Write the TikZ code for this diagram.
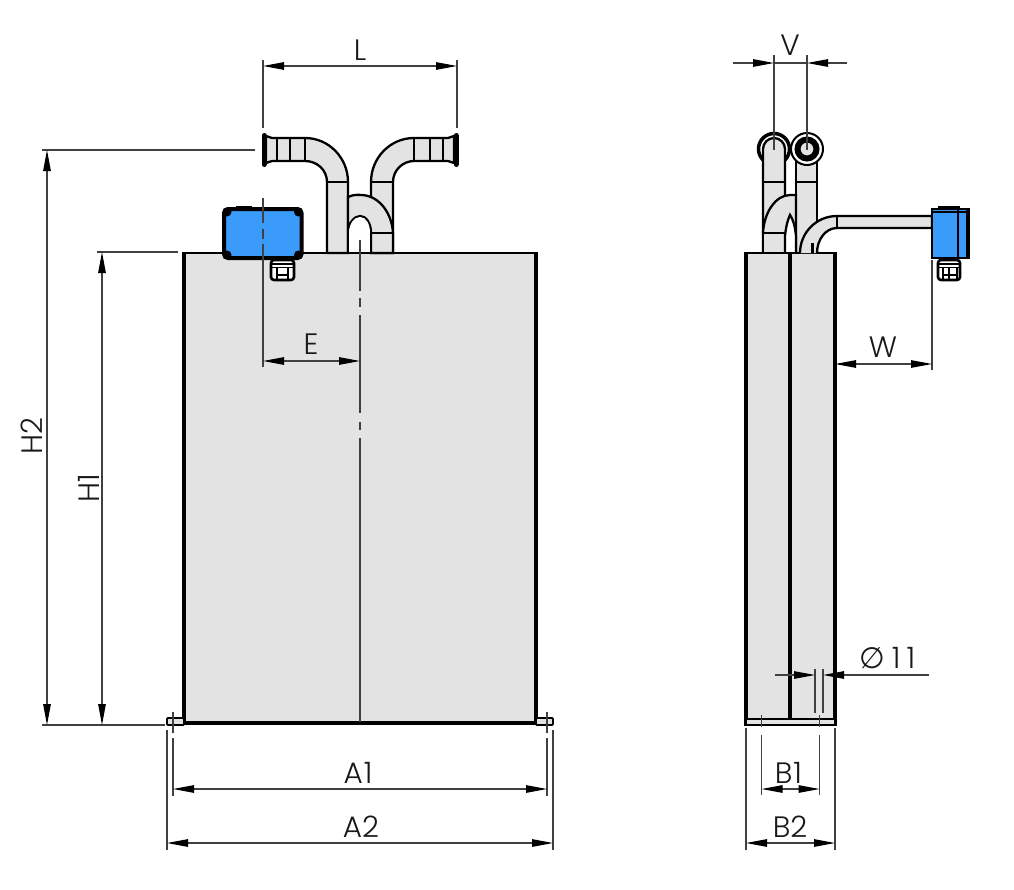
\documentclass[tikz,border=0pt]{standalone}
\usepackage{fontspec}
\setmainfont{Poppins}[UprightFont=* Light]
\newfontfamily\symfont{DejaVu Sans}
\usetikzlibrary{arrows.meta}
\definecolor{bodygray}{HTML}{E3E3E3}
\definecolor{boxblue}{HTML}{3B9BFB}
\begin{document}
\begin{tikzpicture}[
        x=1pt, y=-1pt,
        body/.style = {draw=black, fill=bodygray, line width=2.3pt}, % Корпус и трубы
        edgeline/.style = {line width=3.4pt}, % Толстые края
        bar/.style = {line width=2.3pt},
        flange/.style = {line width=5pt, line cap=round},
        termbox/.style = {draw=black, fill=boxblue, line width=4pt, rounded corners=4pt},
        gland/.style = {draw=black, fill=white, line width=2.6pt, rounded corners=3pt},
        ext/.style = {draw=black!75, line width=1.1pt}, % Выносные линии
        dim/.style = {draw=black!75, line width=1.1pt, {Triangle[length=21pt,width=7.5pt,color=black]}-{Triangle[length=21pt,width=7.5pt,color=black]}},
        dimend/.style = {draw=black!75, line width=1.1pt, -{Triangle[length=21pt,width=7.5pt,color=black]}},
        lbl/.style = {font=\fontsize{29.5}{32}\selectfont, inner sep=0pt, text=black!90},
    ]
    \useasboundingbox (0,0) rectangle (1014,889);

    % Вид спереди
    \path[fill=bodygray] (184,253) rectangle (536,722);
    \draw[bar] (184,253) -- (536,253);
    \draw[edgeline] (184,252) -- (184,723) -- (536,723) -- (536,252);
    \draw[fill=bodygray, line width=1.8pt, rounded corners=1pt] (167,718) rectangle (184,725);
    \draw[fill=bodygray, line width=1.8pt, rounded corners=1pt] (536,718) rectangle (553,725);

    % Трубы
    \draw[body] (266,136) -- (272,138) -- (305,138) .. controls (329,138) and (348,158) .. (348,182)
        -- (348,253) -- (327,253) -- (327,182) .. controls (327,170) and (317,161) .. (305,161)
        -- (272,161) -- (266,163) -- cycle;
    \draw[body] (454,136) -- (448,138) -- (414,138) .. controls (390,138) and (371,158) .. (371,182)
        -- (371,253) -- (393,253) -- (393,182) .. controls (393,170) and (403,161) .. (414,161)
        -- (448,161) -- (454,163) -- cycle;
    \foreach \xa in {277,290,305,414,430,443}
        \draw[bar] (\xa,138) -- (\xa,161);
    \draw[bar] (327,182) -- (348,182) (371,182) -- (393,182);
    \draw[flange] (264,135.5) -- (264,164.5);
    \draw[flange] (456,135.5) -- (456,164.5);
    \draw[body] (348,253) -- (348,197) .. controls (354,194) and (360,195) .. (362,195)
        .. controls (380,196) and (392,214) .. (393,233) -- (393,253) -- (371,253) -- (371,233)
        .. controls (371,223) and (366,216) .. (360,216) .. controls (354,216) and (348,224) .. (348,233);
    \path[fill=white] (349,253) -- (349,233) .. controls (349,224) and (354,217) .. (360,217)
        .. controls (366,217) and (370,224) .. (370,233) -- (370,253) -- cycle;
    \draw[bar] (348,233) -- (348,253) (371,233) -- (393,233) (371,233) -- (371,253);
    \draw[bar] (327,253) -- (393,253);

    % Клеммная коробка
    \draw[gland] (271,260) rectangle (294,280);
    \draw[line width=1.3pt] (271,264) -- (294,264) (271,267.5) -- (294,267.5);
    \draw[line width=1.6pt] (277,267.5) -- (277,279) (288,267.5) -- (288,279) (277,275) -- (288,275);
    \draw[termbox] (224,209) rectangle (301.5,258);
    \foreach \xa/\ya in {227/212, 298.5/212, 227/255, 298.5/255}
        \fill (\xa,\ya) circle (4.5pt);
    \draw[line width=1.8pt] (236,206.5) -- (252,206.5);

    % Вид сбоку
    \draw[line width=3.5pt, fill=white] (774,149) circle (15.5pt);
    \draw[body] (763,253) -- (763,149) .. controls (763,143) and (768,138) .. (774,138)
        .. controls (780,138) and (785,143) .. (785,149) -- (785,253) -- cycle;
    \draw[body] (796,253) -- (796,150) -- (817,150) -- (817,253) -- cycle;
    \draw[bar] (763,182) -- (785,182) (796,182) -- (817,182);
    \draw[line width=2pt, fill=white] (807,149) circle (16pt);
    \draw[line width=6pt, fill=bodygray] (807,149) circle (9.5pt);
    \draw[draw=none, fill=bodygray] (763,253) -- (763,233) .. controls (764,212) and (776,195) .. (790,195)
        -- (796,195) -- (796,253) -- cycle;
    \draw[bar] (763,233) .. controls (764,212) and (776,195) .. (790,195) -- (796,195) -- (796,253);
    \draw[bar] (763,233) -- (763,253) (785,233) -- (785,253) (763,233) -- (785,233);
    \path[fill=white] (785,253) -- (785,236) .. controls (786,226) and (788,219) .. (790,215)
        .. controls (793,219) and (795,226) .. (796,236) -- (796,253) -- cycle;
    \draw[bar] (785,253) -- (785,236) .. controls (786,226) and (788,219) .. (790,215)
        .. controls (793,219) and (795,226) .. (796,236) -- (796,253);

    \path[fill=bodygray] (746,253) rectangle (835,720);
    \draw[bar] (746,253) -- (835,253);
    \draw[edgeline] (746,252) -- (746,720) (835,252) -- (835,720) (790,252) -- (790,720);
    \draw[fill=bodygray, line width=2.2pt] (745.5,719) rectangle (835.5,725);

    % Кабельный ввод
    \draw[body] (800,253) .. controls (800,233) and (816,216) .. (837,216) -- (932,216) -- (932,228)
        -- (837,228) .. controls (826,228) and (817,239) .. (817,253);
    \draw[bar] (837,216) -- (837,228) (812.5,253) -- (812.5,243);
    \draw[gland] (938,260) rectangle (960,280);
    \draw[line width=1.3pt] (938,264) -- (960,264) (938,267.5) -- (960,267.5);
    \draw[line width=1.6pt] (943,267.5) -- (943,279) (949,267.5) -- (949,279) (957,267.5) -- (957,279) (943,275) -- (957,275);
    \draw[draw=black, fill=boxblue, line width=2.8pt] (932,209) rectangle (969,258);
    \draw[line width=2pt] (932,212) -- (969,212) (958,206.5) -- (958,258) (967,209) -- (967,258);
    \draw[line width=1.8pt] (938,207) -- (960,207);

    % Размерные точки
    \coordinate (Lleft) at (263,66);
    \coordinate (Lright) at (457,66);
    \coordinate (Eleft) at (263,361);
    \coordinate (Eright) at (360,361);
    \coordinate (H2top) at (47,150);
    \coordinate (H2bot) at (47,725);
    \coordinate (H1top) at (102,252);
    \coordinate (H1bot) at (102,725);
    \coordinate (A1left) at (173,789);
    \coordinate (A1right) at (547,789);
    \coordinate (A2left) at (167,843);
    \coordinate (A2right) at (553,843);
    \coordinate (B1left) at (761.5,789);
    \coordinate (B1right) at (819.5,789);
    \coordinate (B2left) at (746,843);
    \coordinate (B2right) at (835,843);
    \coordinate (Wleft) at (835,364);
    \coordinate (Wright) at (932,364);
    \coordinate (Vleft) at (774,63);
    \coordinate (Vright) at (807,63);
    \coordinate (Vfarleft) at (733,63);
    \coordinate (Vfarright) at (847,63);
    \coordinate (Dleft) at (815,675);
    \coordinate (Dright) at (823,675);
    \coordinate (Dfarleft) at (775,675);
    \coordinate (Dfarright) at (929,675);

    % Выносные линии
    \draw[ext] (263,60) -- (263,128) (457,60) -- (457,128);
    \draw[ext] (263,198) -- (263,223) (263,229) -- (263,239) (263,244) -- (263,367);
    \draw[ext] (360,240) -- (360,291) (360,298) -- (360,307) (360,315) -- (360,413)
        (360,422) -- (360,430) (360,438) -- (360,722);
    \draw[ext] (42,150) -- (255,150) (42,725) -- (165,725);
    \draw[ext] (97,252) -- (178,252);
    \draw[ext] (173,712) -- (173,733) (547,712) -- (547,733);
    \draw[ext] (173,738) -- (173,796) (547,738) -- (547,796);
    \draw[ext] (167,730) -- (167,850) (553,730) -- (553,850);
    \draw[ext] (774,55) -- (774,150) (807,55) -- (807,150);
    \draw[ext] (932,260) -- (932,370);
    \draw[ext] (761.5,715) -- (761.5,727) (819.5,715) -- (819.5,727);
    \draw[ext] (761.5,735) -- (761.5,795) (819.5,735) -- (819.5,795);
    \draw[ext] (746,728) -- (746,850) (835,728) -- (835,850);
    \draw[ext] (815,669) -- (815,713) (823,669) -- (823,713);

    % Размеры
    \draw[dim] (Lleft) -- (Lright);
    \draw[dim] (Eleft) -- (Eright);
    \draw[dim] (H2top) -- (H2bot);
    \draw[dim] (H1top) -- (H1bot);
    \draw[dim] (A1left) -- (A1right);
    \draw[dim] (A2left) -- (A2right);
    \draw[dim] (B1left) -- (B1right);
    \draw[dim] (B2left) -- (B2right);
    \draw[dim] (Wleft) -- (Wright);
    \draw[dimend] (Vfarleft) -- (Vleft);
    \draw[dimend] (Vfarright) -- (Vright);
    \draw[ext] (Vleft) -- (Vright);
    \draw[dimend] (Dfarleft) -- (Dleft);
    \draw[dimend] (Dfarright) -- (Dright);

    % Подписи
    \node[lbl] (labelL) at (360,50) {L};
    \node[lbl] (labelE) at (311,344) {E};
    \node[lbl, rotate=90] (labelHtwo) at (32,436) {H2};
    \node[lbl, rotate=90] (labelHone) at (89,488) {H1};
    \node[lbl] (labelAone) at (358,773) {A\hspace{1pt}1};
    \node[lbl] (labelAtwo) at (361,827) {A2};
    \node[lbl] (labelBone) at (788.5,773) {B\hspace{1pt}1};
    \node[lbl] (labelBtwo) at (790,827) {B2};
    \node[lbl] (labelW) at (883,347) {W};
    \node[lbl] (labelV) at (790,45) {V};
    \node[lbl, anchor=base west] (labelD) at (859,668) {{\symfont ∅}\hspace{7pt}1\hspace{6pt}1};
\end{tikzpicture}
\end{document}
